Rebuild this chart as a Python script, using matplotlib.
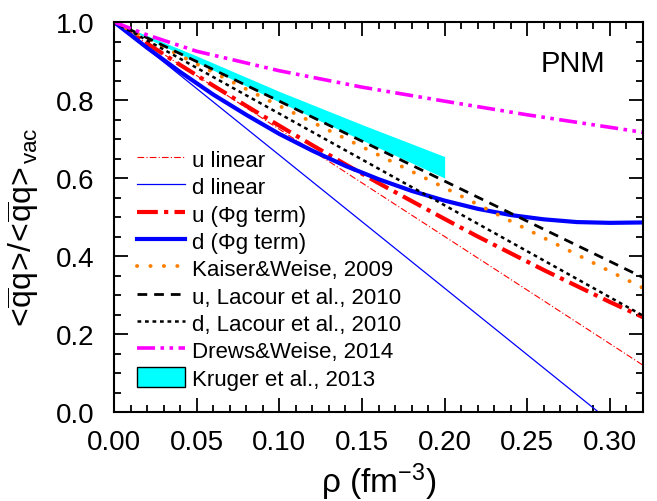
import matplotlib
matplotlib.use('Agg')
import matplotlib.pyplot as plt
from matplotlib.patches import Patch

plt.rcParams['font.family'] = ['Liberation Sans', 'DejaVu Sans']
plt.rcParams['mathtext.fontset'] = 'custom'
plt.rcParams['mathtext.rm'] = 'Liberation Sans'
plt.rcParams['mathtext.it'] = 'Liberation Sans'

# data
rho = [0.0, 0.02, 0.04, 0.06, 0.08, 0.10, 0.12, 0.14, 0.16,
       0.18, 0.20, 0.22, 0.24, 0.26, 0.28, 0.30, 0.32]
u_phi = [1.0, 0.945, 0.890, 0.837, 0.785, 0.734, 0.684, 0.635, 0.587,
         0.541, 0.495, 0.450, 0.407, 0.364, 0.323, 0.282, 0.243]
d_phi = [1.0, 0.934, 0.872, 0.814, 0.762, 0.713, 0.670, 0.631, 0.597,
         0.567, 0.542, 0.521, 0.505, 0.494, 0.487, 0.485, 0.486]

rho_ulin = [0.0, 0.32]
u_lin = [1.0, 0.12]
rho_dlin = [0.0, 0.293]
d_lin = [1.0, 0.0]

rho_lit = [0.0, 0.10, 0.20, 0.32]
kaiser = [1.0, 0.785, 0.575, 0.318]
u_lacour = [1.0, 0.797, 0.592, 0.345]
d_lacour = [1.0, 0.765, 0.530, 0.247]

rho_drews = [0.0, 0.02, 0.05, 0.10, 0.15, 0.20, 0.25, 0.30, 0.32]
drews = [1.0, 0.967, 0.925, 0.875, 0.833, 0.797, 0.762, 0.730, 0.717]

rho_kr = [0.0, 0.05, 0.10, 0.15, 0.20]
kr_hi = [1.0, 0.913, 0.822, 0.737, 0.655]
kr_lo = [1.0, 0.897, 0.795, 0.697, 0.600]

W, H = 657, 502
fig = plt.figure(figsize=(W/100, H/100), dpi=100)
ax = fig.add_axes([114/W, (H-413)/H, 529/W, 390/H])

ax.fill_between(rho_kr, kr_lo, kr_hi, color='#00ffff', lw=0)
ax.plot(rho_ulin, u_lin, color='red', lw=0.8, dashes=(6, 2, 1, 2), label='u linear')
ax.plot(rho_dlin, d_lin, color='blue', lw=0.9, label='d linear')
ax.plot(rho, u_phi, color='red', lw=3, dashes=(5, 1.5, 1, 1.5), label='u (Φg term)')
ax.plot(rho, d_phi, color='blue', lw=3, label='d (Φg term)')
ax.plot(rho_lit, kaiser, color='#ff8000', lw=2.8, dashes=(0.05, 3.4),
        dash_capstyle='round', label='Kaiser&Weise, 2009')
ax.plot(rho_lit, u_lacour, color='black', lw=2, dashes=(3.5, 2.5), label='u, Lacour et al., 2010')
ax.plot(rho_lit, d_lacour, color='black', lw=1.8, dashes=(1.5, 1.5), label='d, Lacour et al., 2010')
ax.plot(rho_drews, drews, color='magenta', lw=2.6, dashes=(5, 1.5, 1, 1.5, 1, 1.5),
        label='Drews&Weise, 2014')

handles, labels = ax.get_legend_handles_labels()
handles.append(Patch(facecolor='#00ffff', edgecolor='black', lw=1))
labels.append('Kruger et al., 2013')
ax.legend(handles, labels, loc='upper left', bbox_to_anchor=(137/W, (H-149)/H),
          bbox_transform=fig.transFigure, frameon=False, fontsize=16,
          borderpad=0, borderaxespad=0, handlelength=2.15, handleheight=1.05,
          handletextpad=0.33, labelspacing=0.2)

ax.text(0.928, 0.895, 'PNM', transform=ax.transAxes, ha='right', va='center', fontsize=21)

ax.set_xlim(0, 0.32)
ax.set_ylim(0, 1.0)
ax.set_xticks([0.0, 0.05, 0.10, 0.15, 0.20, 0.25, 0.30])
ax.set_xticks([i*0.01 for i in range(33)], minor=True)
ax.set_xticklabels(['0.00', '0.05', '0.10', '0.15', '0.20', '0.25', '0.30'])
ax.set_yticks([0.0, 0.2, 0.4, 0.6, 0.8, 1.0])
ax.set_yticks([i*0.05 for i in range(21)], minor=True)
ax.set_yticklabels(['0.0', '0.2', '0.4', '0.6', '0.8', '1.0'])
ax.tick_params(which='both', direction='in', top=True, right=True, labelsize=20)
ax.tick_params(which='major', length=10, width=1.3)
ax.tick_params(which='minor', length=5, width=1.3)
ax.tick_params(axis='x', pad=12)
ax.tick_params(axis='y', pad=14)
for s in ax.spines.values():
    s.set_linewidth(1.5)

ax.set_xlabel(r'ρ (fm$^{\mathregular{-3}}$)', fontsize=24, labelpad=4)
ax.set_ylabel(r'$\mathregular{<\!\overline{q}q\!>\!/\!<\!\overline{q}q\!>_{\!vac}}$',
              fontsize=23)
ax.yaxis.set_label_coords(-0.136, 0.47)

fig.savefig('out.png', dpi=100)
